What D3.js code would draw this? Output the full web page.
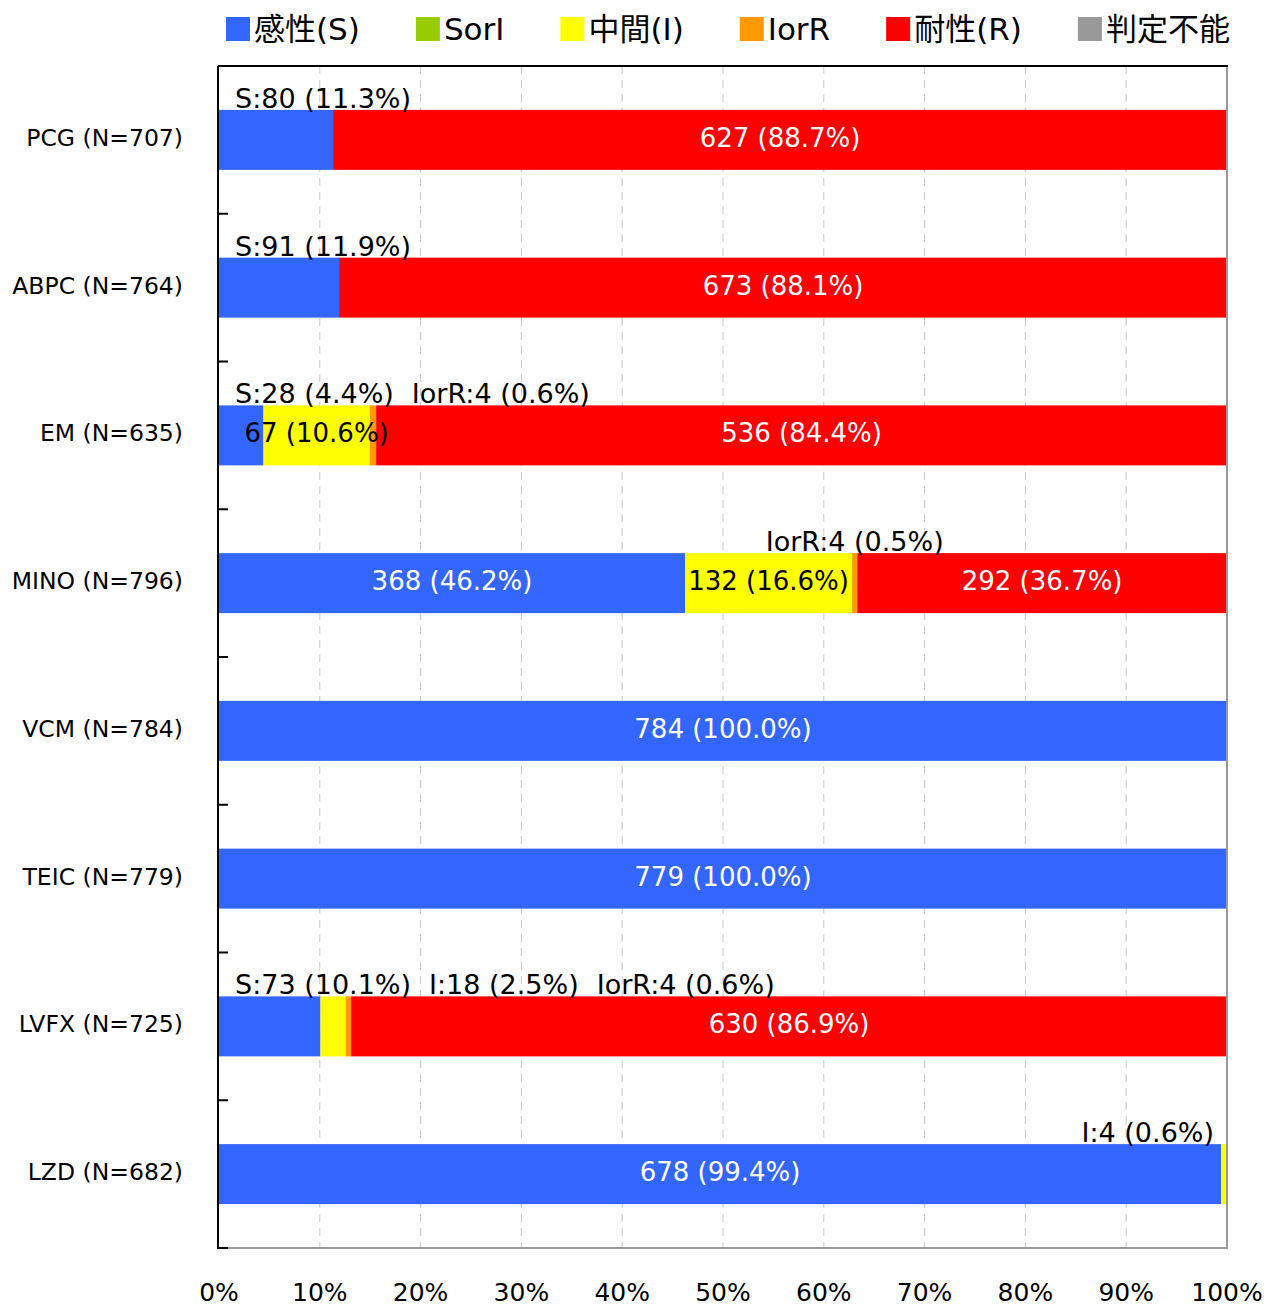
<!DOCTYPE html>
<html lang="ja">
<head>
  <meta charset="UTF-8">
  <title>感受性</title>
  <script src="https://d3js.org/d3.v7.min.js"></script>
  <style>
    body { margin: 0; background: #fff; }
    text { font-family: "DejaVu Sans", "Noto Sans CJK JP", sans-serif; }
  </style>
</head>
<body>
  <svg id="chart" width="1267" height="1308"></svg>
  <script>
    // data
    const drugs = ["PCG", "ABPC", "EM", "MINO", "VCM", "TEIC", "LVFX", "LZD"];
    const keys = ["S", "SorI", "I", "IorR", "R", "ND"];
    const legendNames = ["感性(S)", "SorI", "中間(I)", "IorR", "耐性(R)", "判定不能"];
    const colors = ["#3366ff", "#99cc00", "#ffff00", "#ff9900", "#ff0000", "#999999"];
    const countS    = [80, 91, 28, 368, 784, 779, 73, 678];
    const countSorI = [0, 0, 0, 0, 0, 0, 0, 0];
    const countI    = [0, 0, 67, 132, 0, 0, 18, 4];
    const countIorR = [0, 0, 4, 4, 0, 0, 4, 0];
    const countR    = [627, 673, 536, 292, 0, 0, 630, 0];
    const countND   = [0, 0, 0, 0, 0, 0, 0, 0];
    // small segments whose label sits above the bar
    const outsideLabels = ["PCG:S", "ABPC:S", "EM:S", "EM:IorR", "MINO:IorR", "LVFX:S", "LVFX:I", "LVFX:IorR", "LZD:I"];
    const xTicks = [0, 10, 20, 30, 40, 50, 60, 70, 80, 90, 100];

    const svg = d3.select("svg#chart");
    const width = +svg.attr("width");
    const height = +svg.attr("height");
    const margin = {top: 66, right: 40, bottom: 60, left: 219};
    const plotRight = width - margin.right;
    const plotBottom = height - margin.bottom;

    const series = [countS, countSorI, countI, countIorR, countR, countND];
    const rows = drugs.map((d, i) => {
      const row = {drug: d};
      keys.forEach((k, j) => row[k] = series[j][i]);
      row.total = d3.sum(series, s => s[i]);
      return row;
    });

    const xScale = d3.scaleLinear().domain([0, 100]).range([margin.left, plotRight]);
    const yScale = d3.scaleBand().domain(drugs)
                     .range([margin.top, plotBottom])
                     .paddingInner(0.594).paddingOuter(0.297);
    const colorScale = d3.scaleOrdinal().domain(keys).range(colors);

    // gridlines
    svg.append("g")
       .selectAll("line")
       .data(xTicks.slice(1, -1))
       .join("line")
       .attr("x1", d => xScale(d)).attr("x2", d => xScale(d))
       .attr("y1", margin.top).attr("y2", plotBottom)
       .attr("stroke", "#c8c8c8")
       .attr("stroke-width", 1)
       .attr("stroke-dasharray", "8,6");

    // stacked bars
    const stacked = d3.stack().keys(keys)
                      .value((d, k) => d[k] / d.total * 100)(rows);

    const bars = svg.append("g");
    stacked.forEach(layer => {
      bars.append("g")
          .attr("fill", colorScale(layer.key))
          .selectAll("rect")
          .data(layer.filter(d => d[1] > d[0]))
          .join("rect")
          .attr("x", d => xScale(d[0]))
          .attr("y", d => yScale(d.data.drug))
          .attr("width", d => xScale(d[1]) - xScale(d[0]))
          .attr("height", yScale.bandwidth());
    });

    // frame
    svg.append("line").attr("x1", plotRight).attr("x2", plotRight)
       .attr("y1", margin.top).attr("y2", plotBottom)
       .attr("stroke", "#999").attr("stroke-width", 2);
    svg.append("line").attr("x1", margin.left).attr("x2", plotRight + 1)
       .attr("y1", plotBottom).attr("y2", plotBottom)
       .attr("stroke", "#999").attr("stroke-width", 2);
    svg.append("line").attr("x1", margin.left - 1).attr("x2", plotRight + 1)
       .attr("y1", margin.top).attr("y2", margin.top)
       .attr("stroke", "#000").attr("stroke-width", 2);
    svg.append("line").attr("x1", margin.left - 1).attr("x2", margin.left - 1)
       .attr("y1", margin.top).attr("y2", plotBottom + 1)
       .attr("stroke", "#000").attr("stroke-width", 2);

    // category ticks (between bands, pointing inward)
    const step = yScale.step();
    svg.append("g")
       .selectAll("line")
       .data(d3.range(1, drugs.length + 1))
       .join("line")
       .attr("x1", margin.left - 1).attr("x2", margin.left + 9)
       .attr("y1", i => margin.top + i * step).attr("y2", i => margin.top + i * step)
       .attr("stroke", "#000").attr("stroke-width", 2);

    // category labels
    svg.append("g")
       .selectAll("text")
       .data(rows)
       .join("text")
       .attr("x", margin.left - 36)
       .attr("y", d => yScale(d.drug) + yScale.bandwidth() / 2 - 2)
       .attr("dominant-baseline", "central")
       .attr("text-anchor", "end")
       .style("font-size", "23.5px")
       .attr("fill", "#000")
       .text(d => `${d.drug} (N=${d.total})`);

    // x tick labels
    svg.append("g")
       .selectAll("text")
       .data(xTicks)
       .join("text")
       .attr("x", d => xScale(d))
       .attr("y", height - 7)
       .attr("text-anchor", "middle")
       .style("font-size", "25px")
       .text(d => d + "%");

    // value labels
    const labels = svg.append("g");
    rows.forEach(row => {
      const barTop = yScale(row.drug);
      const mid = barTop + yScale.bandwidth() / 2;
      let prevRight = margin.left + 16 - 18;
      let acc = 0;
      keys.forEach(k => {
        const v = row[k];
        const pct = v / row.total * 100;
        const x0 = acc;
        acc += pct;
        if (v === 0) return;
        const pctText = `${v} (${pct.toFixed(1)}%)`;
        const cx = xScale(x0 + pct / 2);
        if (outsideLabels.includes(row.drug + ":" + k)) {
          const t = labels.append("text")
                          .attr("y", barTop - 2)
                          .style("font-size", "27px")
                          .attr("fill", "#000")
                          .text(`${k}:${pctText}`);
          const w = t.node().getComputedTextLength();
          let left = cx - w / 2;
          left = Math.max(left, prevRight + 18);
          left = Math.min(left, plotRight - 13 - w);
          t.attr("x", left);
          prevRight = left + w;
        } else {
          labels.append("text")
                .attr("x", cx)
                .attr("y", mid - 2)
                .attr("dominant-baseline", "central")
                .attr("text-anchor", "middle")
                .style("font-size", "26px")
                .attr("fill", k === "I" ? "#000" : "#fff")
                .text(pctText);
        }
      });
    });

    // legend
    const legend = svg.append("g");
    let lx = 226;
    keys.forEach((k, i) => {
      legend.append("rect")
            .attr("x", lx).attr("y", 17)
            .attr("width", 24).attr("height", 24)
            .attr("fill", colors[i]);
      const t = legend.append("text")
                      .attr("x", lx + 28)
                      .attr("y", 40)
                      .style("font-size", "31px")
                      .text(legendNames[i]);
      lx += 28 + t.node().getComputedTextLength() + 56;
    });
  </script>
</body>
</html>
